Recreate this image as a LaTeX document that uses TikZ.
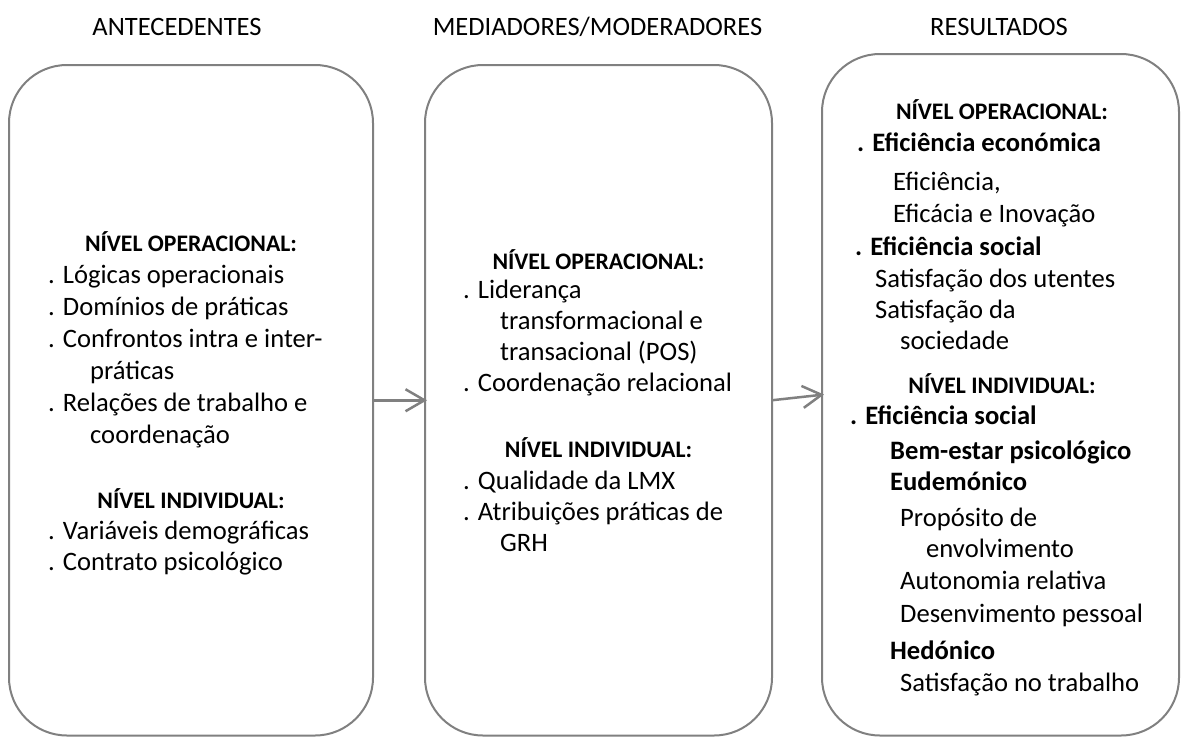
\documentclass[tikz,border=0pt]{standalone}
\usepackage{fontspec}
\setmainfont{Carlito}
\usetikzlibrary{arrows.meta}
\definecolor{edge}{HTML}{808080}
\begin{document}
\begin{tikzpicture}[x=1pt,y=-1pt,
  panel/.style={draw=edge, line width=2pt, rounded corners=58pt, inner sep=0pt, outer sep=0pt},
  colhead/.style={anchor=base, inner sep=0pt, font=\fontsize{26.5}{32}\selectfont},
  lvl/.style={anchor=base, inner sep=0pt, font=\bfseries\fontsize{23.7}{28}\selectfont},
  item/.style={anchor=base west, inner sep=0pt, font=\fontsize{26.6}{32}\selectfont},
  bitem/.style={item, font=\bfseries\fontsize{26.6}{32}\selectfont},
  flow/.style={draw=edge, line width=2.5pt, shorten >=-2pt, -{Straight Barb[length=19pt,width=22pt,line width=2.5pt]}}]
\useasboundingbox (0,0) rectangle (1181,737);

% column titles
\node[colhead] (hA) at (177,35.5) {ANTECEDENTES};
\node[colhead] (hB) at (597.5,35.5) {MEDIADORES/MODERADORES};
\node[colhead] (hC) at (999,35.5) {RESULTADOS};

% the three panels
\node[panel, minimum width=364pt, minimum height=670.5pt] (ant) at (191,400.25) {};
\node[panel, minimum width=347pt, minimum height=670.5pt] (med) at (598.5,400.25) {};
\node[panel, minimum width=357pt, minimum height=681.5pt] (res) at (1000.5,394.75) {};

% connectors between panels
\draw[flow] (ant.east) -- (med.west);
\draw[flow] (med.east) -- (res.west);

% antecedents
\node[lvl] (a0) at (191,251) {NÍVEL OPERACIONAL:};
\node[item] (a1) at (48,283) {. Lógicas operacionais};
\node[item] (a2) at (48,315) {. Domínios de práticas};
\node[item] (a3) at (48,347) {. Confrontos intra e inter-};
\node[item] (a4) at (90,379) {práticas};
\node[item] (a5) at (48,411) {. Relações de trabalho e};
\node[item] (a6) at (90,443) {coordenação};
\node[lvl] (a7) at (191,508) {NÍVEL INDIVIDUAL:};
\node[item] (a8) at (48,539) {. Variáveis demográficas};
\node[item] (a9) at (48,570) {. Contrato psicológico};

% mediators / moderators
\node[lvl] (m0) at (598.5,269) {NÍVEL OPERACIONAL:};
\node[item] (m1) at (463,298) {. Liderança};
\node[item] (m2) at (500,329) {transformacional e};
\node[item] (m3) at (500,360) {transacional (POS)};
\node[item] (m4) at (463,391) {. Coordenação relacional};
\node[lvl] (m5) at (598.5,457) {NÍVEL INDIVIDUAL:};
\node[item] (m6) at (463,489) {. Qualidade da LMX};
\node[item] (m7) at (463,520) {. Atribuições práticas de};
\node[item] (m8) at (500,551) {GRH};

% results
\node[lvl] (r0) at (1002,119) {NÍVEL OPERACIONAL:};
\node[bitem] (r1) at (857,151) {. Eficiência económica};
\node[item] (r2) at (893,190) {Eficiência,};
\node[item] (r3) at (893,222) {Eficácia e Inovação};
\node[bitem] (r4) at (855,255) {. Eficiência social};
\node[item] (r5) at (875,287) {Satisfação dos utentes};
\node[item] (r6) at (875,318) {Satisfação da};
\node[item] (r7) at (900,349) {sociedade};
\node[lvl] (r8) at (1002,393) {NÍVEL INDIVIDUAL:};
\node[bitem] (r9) at (850,424) {. Eficiência social};
\node[bitem] (r10) at (890,459) {Bem-estar psicológico};
\node[bitem] (r11) at (890,490) {Eudemónico};
\node[item] (r12) at (900,526) {Propósito de};
\node[item] (r13) at (926,557) {envolvimento};
\node[item] (r14) at (900,589) {Autonomia relativa};
\node[item] (r15) at (900,622) {Desenvimento pessoal};
\node[bitem] (r16) at (890,659) {Hedónico};
\node[item] (r17) at (900,691) {Satisfação no trabalho};
\end{tikzpicture}
\end{document}
